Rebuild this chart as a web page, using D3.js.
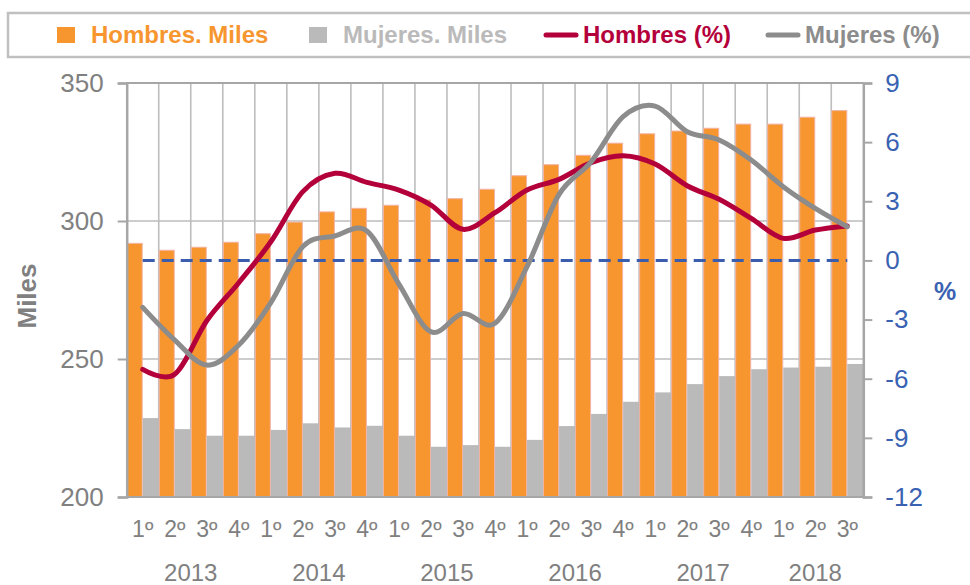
<!DOCTYPE html>
<html><head><meta charset="utf-8">
<script src="https://cdn.jsdelivr.net/npm/d3@7"></script>
<style>body{margin:0;background:#fff} svg{display:block;font-family:"Liberation Sans",Arial,sans-serif}</style>
</head><body><svg id="c" width="970" height="585"></svg>
<script>
// ---- data ----
const quarters = ["1º","2º","3º","4º","1º","2º","3º","4º","1º","2º","3º","4º","1º","2º","3º","4º","1º","2º","3º","4º","1º","2º","3º"];
const years = ["2013","2014","2015","2016","2017","2018"];
const yearCounts = [4,4,4,4,4,3];
const hombresMiles = [291.9,289.4,290.5,292.3,295.4,299.6,303.3,304.6,305.7,307.6,308.1,311.5,316.4,320.4,323.8,328.2,331.6,332.6,333.6,335.1,335.1,337.6,340.0];
const mujeresMiles = [228.6,224.6,222.2,222.2,224.3,226.7,225.2,225.8,222.2,218.2,218.8,218.2,220.7,225.7,230.1,234.5,237.9,240.9,243.8,246.3,246.9,247.2,248.2];
const hombresPct = [-5.53,-5.77,-3.06,-1.13,0.95,3.49,4.42,3.96,3.57,2.81,1.58,2.42,3.57,4.11,4.96,5.31,4.89,3.79,3.10,2.13,1.12,1.54,1.75];
const mujeresPct = [-2.38,-4.04,-5.31,-4.29,-2.14,0.70,1.24,1.49,-1.20,-3.62,-2.69,-3.19,-0.32,3.35,5.00,7.29,7.83,6.53,6.11,5.09,3.74,2.64,1.71];
const zeroLine = quarters.map(() => 0);
const leftTicks = [200,250,300,350];
const rightTicks = [-12,-9,-6,-3,0,3,6,9];
const legendItems = [
  {label:"Hombres. Miles", type:"rect", color:"#F7962F"},
  {label:"Mujeres. Miles", type:"rect", color:"#BABABA"},
  {label:"Hombres (%)", type:"line", color:"#B4003A"},
  {label:"Mujeres (%)", type:"line", color:"#8C8C8C"}
];

// ---- layout ----
const L = 126.7, R = 863.3, T = 83, B = 497;
const svg = d3.select("#c");
const idx = d3.range(quarters.length);
const x = d3.scaleBand().domain(idx).range([L, R]).paddingInner(0).paddingOuter(0);
const bw = x.bandwidth();
const cx = i => x(i) + bw / 2;
const yL = d3.scaleLinear().domain([200, 350]).range([B, T]);
const yR = d3.scaleLinear().domain([-12, 9]).range([B, T]);
const gridColor = "#BDBDBD";
const axisColor = "#A6A6A6";

// gridlines
const g = svg.append("g");
g.selectAll(".hg").data(leftTicks.filter(v => v > 200)).join("line")
  .attr("x1", L).attr("x2", R).attr("y1", d => yL(d)).attr("y2", d => yL(d))
  .attr("stroke", gridColor).attr("stroke-width", 1.6);
g.selectAll(".vg").data(d3.range(1, quarters.length)).join("line")
  .attr("x1", d => x(d)).attr("x2", d => x(d)).attr("y1", T).attr("y2", B)
  .attr("stroke", gridColor).attr("stroke-width", 1.6);

// bars
svg.append("g").selectAll("rect").data(hombresMiles).join("rect")
  .attr("x", (d, i) => x(i) + 0.5).attr("width", bw / 2 - 1)
  .attr("y", d => yL(d)).attr("height", d => B - yL(d))
  .attr("fill", "#F7962F").attr("stroke", "#F3B3A4").attr("stroke-width", 1);
svg.append("g").selectAll("rect").data(mujeresMiles).join("rect")
  .attr("x", (d, i) => x(i) + bw / 2).attr("width", bw / 2)
  .attr("y", d => yL(d)).attr("height", d => B - yL(d))
  .attr("fill", "#BABABA");

// axes
const fmt = d => String(d);
const axL = svg.append("g").attr("transform", `translate(${L},0)`)
  .call(d3.axisLeft(yL).tickValues(leftTicks).tickFormat(fmt).tickSize(9).tickPadding(14));
const axR = svg.append("g").attr("transform", `translate(${R},0)`)
  .call(d3.axisRight(yR).tickValues(rightTicks).tickFormat(fmt).tickSize(9).tickPadding(13));
[axL, axR].forEach(a => {
  a.select(".domain").attr("stroke", axisColor).attr("stroke-width", 2.5);
  a.selectAll(".tick line").attr("stroke", axisColor).attr("stroke-width", 2);
  a.selectAll("text").attr("font-size", 26).attr("font-family", "Liberation Sans, Arial, sans-serif");
});
axL.selectAll("text").attr("fill", "#808080");
axR.selectAll("text").attr("fill", "#3A62B2");
// top and bottom frame lines
svg.append("line").attr("x1", L).attr("x2", R).attr("y1", T).attr("y2", T).attr("stroke", axisColor).attr("stroke-width", 2);
svg.append("line").attr("x1", L).attr("x2", R).attr("y1", B).attr("y2", B).attr("stroke", axisColor).attr("stroke-width", 2);

// x labels
svg.append("g").selectAll("text").data(quarters).join("text")
  .attr("x", (d, i) => cx(i)).attr("y", 537).attr("text-anchor", "middle")
  .attr("font-size", 23).attr("fill", "#808080").text(d => d);
let start = 0;
const yearPos = years.map((y, k) => { const c = (x(start) + x(start + yearCounts[k] - 1) + bw) / 2; start += yearCounts[k]; return c; });
svg.append("g").selectAll("text").data(years).join("text")
  .attr("x", (d, k) => yearPos[k]).attr("y", 581).attr("text-anchor", "middle")
  .attr("font-size", 24).attr("fill", "#808080").text(d => d);

// axis titles
svg.append("text").attr("transform", "translate(36,296) rotate(-90)").attr("text-anchor", "middle")
  .attr("font-size", 26).attr("font-weight", "bold").attr("fill", "#808080").text("Miles");
svg.append("text").attr("x", 945).attr("y", 300).attr("text-anchor", "middle")
  .attr("font-size", 25).attr("font-weight", "bold").attr("fill", "#3A62B2").text("%");

// zero dashed line
svg.append("path").datum(zeroLine)
  .attr("d", d3.line().x((d, i) => cx(i)).y(d => yR(d)))
  .attr("fill", "none").attr("stroke", "#3A5DAE").attr("stroke-width", 3).attr("stroke-dasharray", "12,7");

// lines
const curve = d3.curveCardinal.tension(0);
svg.append("path").datum(hombresPct)
  .attr("d", d3.line().x((d, i) => cx(i)).y(d => yR(d)).curve(curve))
  .attr("fill", "none").attr("stroke", "#B4003A").attr("stroke-width", 5).attr("stroke-linecap", "round");
svg.append("path").datum(mujeresPct)
  .attr("d", d3.line().x((d, i) => cx(i)).y(d => yR(d)).curve(curve))
  .attr("fill", "none").attr("stroke", "#8C8C8C").attr("stroke-width", 5).attr("stroke-linecap", "round");

// legend
svg.append("rect").attr("x", 8).attr("y", 13).attr("width", 975).attr("height", 44)
  .attr("fill", "none").attr("stroke", "#C0C0C0").attr("stroke-width", 2.5);
const legX = [57, 309, 546, 768];
const lg = svg.append("g").selectAll("g").data(legendItems).join("g")
  .attr("transform", (d, i) => `translate(${legX[i]},0)`);
lg.filter(d => d.type === "rect").append("rect").attr("x", 0).attr("y", 27).attr("width", 18).attr("height", 16)
  .attr("fill", d => d.color);
lg.filter(d => d.type === "line").append("line").attr("x1", 0).attr("x2", 30).attr("y1", 35).attr("y2", 35)
  .attr("stroke", d => d.color).attr("stroke-width", 5).attr("stroke-linecap", "round");
lg.append("text").attr("x", d => d.type === "rect" ? 34 : 37).attr("y", 43)
  .attr("font-size", 24).attr("font-weight", "bold").attr("fill", d => d.color).text(d => d.label);
</script></body></html>
